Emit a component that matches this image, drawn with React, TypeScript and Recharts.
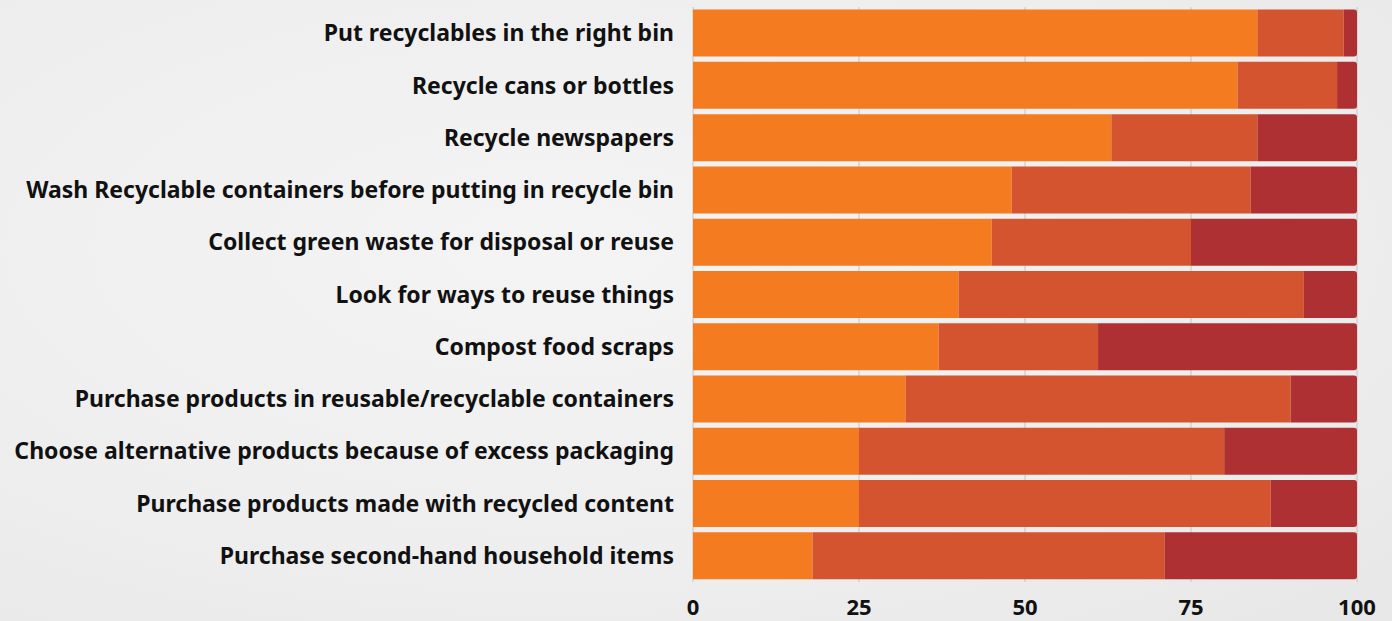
import { BarChart, Bar, XAxis, YAxis, CartesianGrid } from "recharts";

const categories = [
  "Put recyclables in the right bin",
  "Recycle cans or bottles",
  "Recycle newspapers",
  "Wash Recyclable containers before putting in recycle bin",
  "Collect green waste for disposal or reuse",
  "Look for ways to reuse things",
  "Compost food scraps",
  "Purchase products in reusable/recyclable containers",
  "Choose alternative products because of excess packaging",
  "Purchase products made with recycled content",
  "Purchase second-hand household items",
];

const always = [85, 82, 63, 48, 45, 40, 37, 32, 25, 25, 18];
const sometimes = [13, 15, 22, 36, 30, 52, 24, 58, 55, 62, 53];
const never = [2, 3, 15, 16, 25, 8, 39, 10, 20, 13, 29];

const xTicks = [0, 25, 50, 75, 100];

const COLORS = ["#f47b20", "#d55430", "#af3033"];

const data = categories.map((name, i) => ({
  name,
  always: always[i],
  sometimes: sometimes[i],
  never: never[i],
}));

const FONT = "'Noto Sans', 'Open Sans', sans-serif";

export default function App() {
  return (
    <div
      style={{
        position: "absolute",
        left: 0,
        top: 0,
        width: 1392,
        height: 621,
        background: "radial-gradient(ellipse at 40% 40%, #f4f4f4 0%, #eeeeee 60%, #e7e7e7 100%)",
        fontFamily: FONT,
      }}
    >
      <BarChart
        width={1392}
        height={621}
        data={data}
        layout="vertical"
        margin={{ top: 7, right: 35, left: 0, bottom: 0 }}
        barCategoryGap={2.6}
      >
        <CartesianGrid horizontal={false} stroke="#c4c4c4" strokeWidth={1} />
        <XAxis
          type="number"
          domain={[0, 100]}
          ticks={xTicks}
          axisLine={false}
          tickLine={false}
          tickSize={0}
          tickMargin={17}
          height={39}
          tick={{ fill: "#111", fontSize: 22, fontWeight: 700, fontFamily: FONT }}
        />
        <YAxis
          type="category"
          dataKey="name"
          width={693}
          axisLine={false}
          tickLine={false}
          tickSize={0}
          tickMargin={19}
          interval={0}
          tick={{ fill: "#111", fontSize: 23, fontWeight: 700, fontFamily: FONT }}
        />
        <Bar dataKey="always" stackId="a" fill={COLORS[0]} isAnimationActive={false} />
        <Bar dataKey="sometimes" stackId="a" fill={COLORS[1]} isAnimationActive={false} />
        <Bar
          dataKey="never"
          stackId="a"
          fill={COLORS[2]}
          radius={[0, 3, 3, 0]}
          isAnimationActive={false}
        />
      </BarChart>
    </div>
  );
}
